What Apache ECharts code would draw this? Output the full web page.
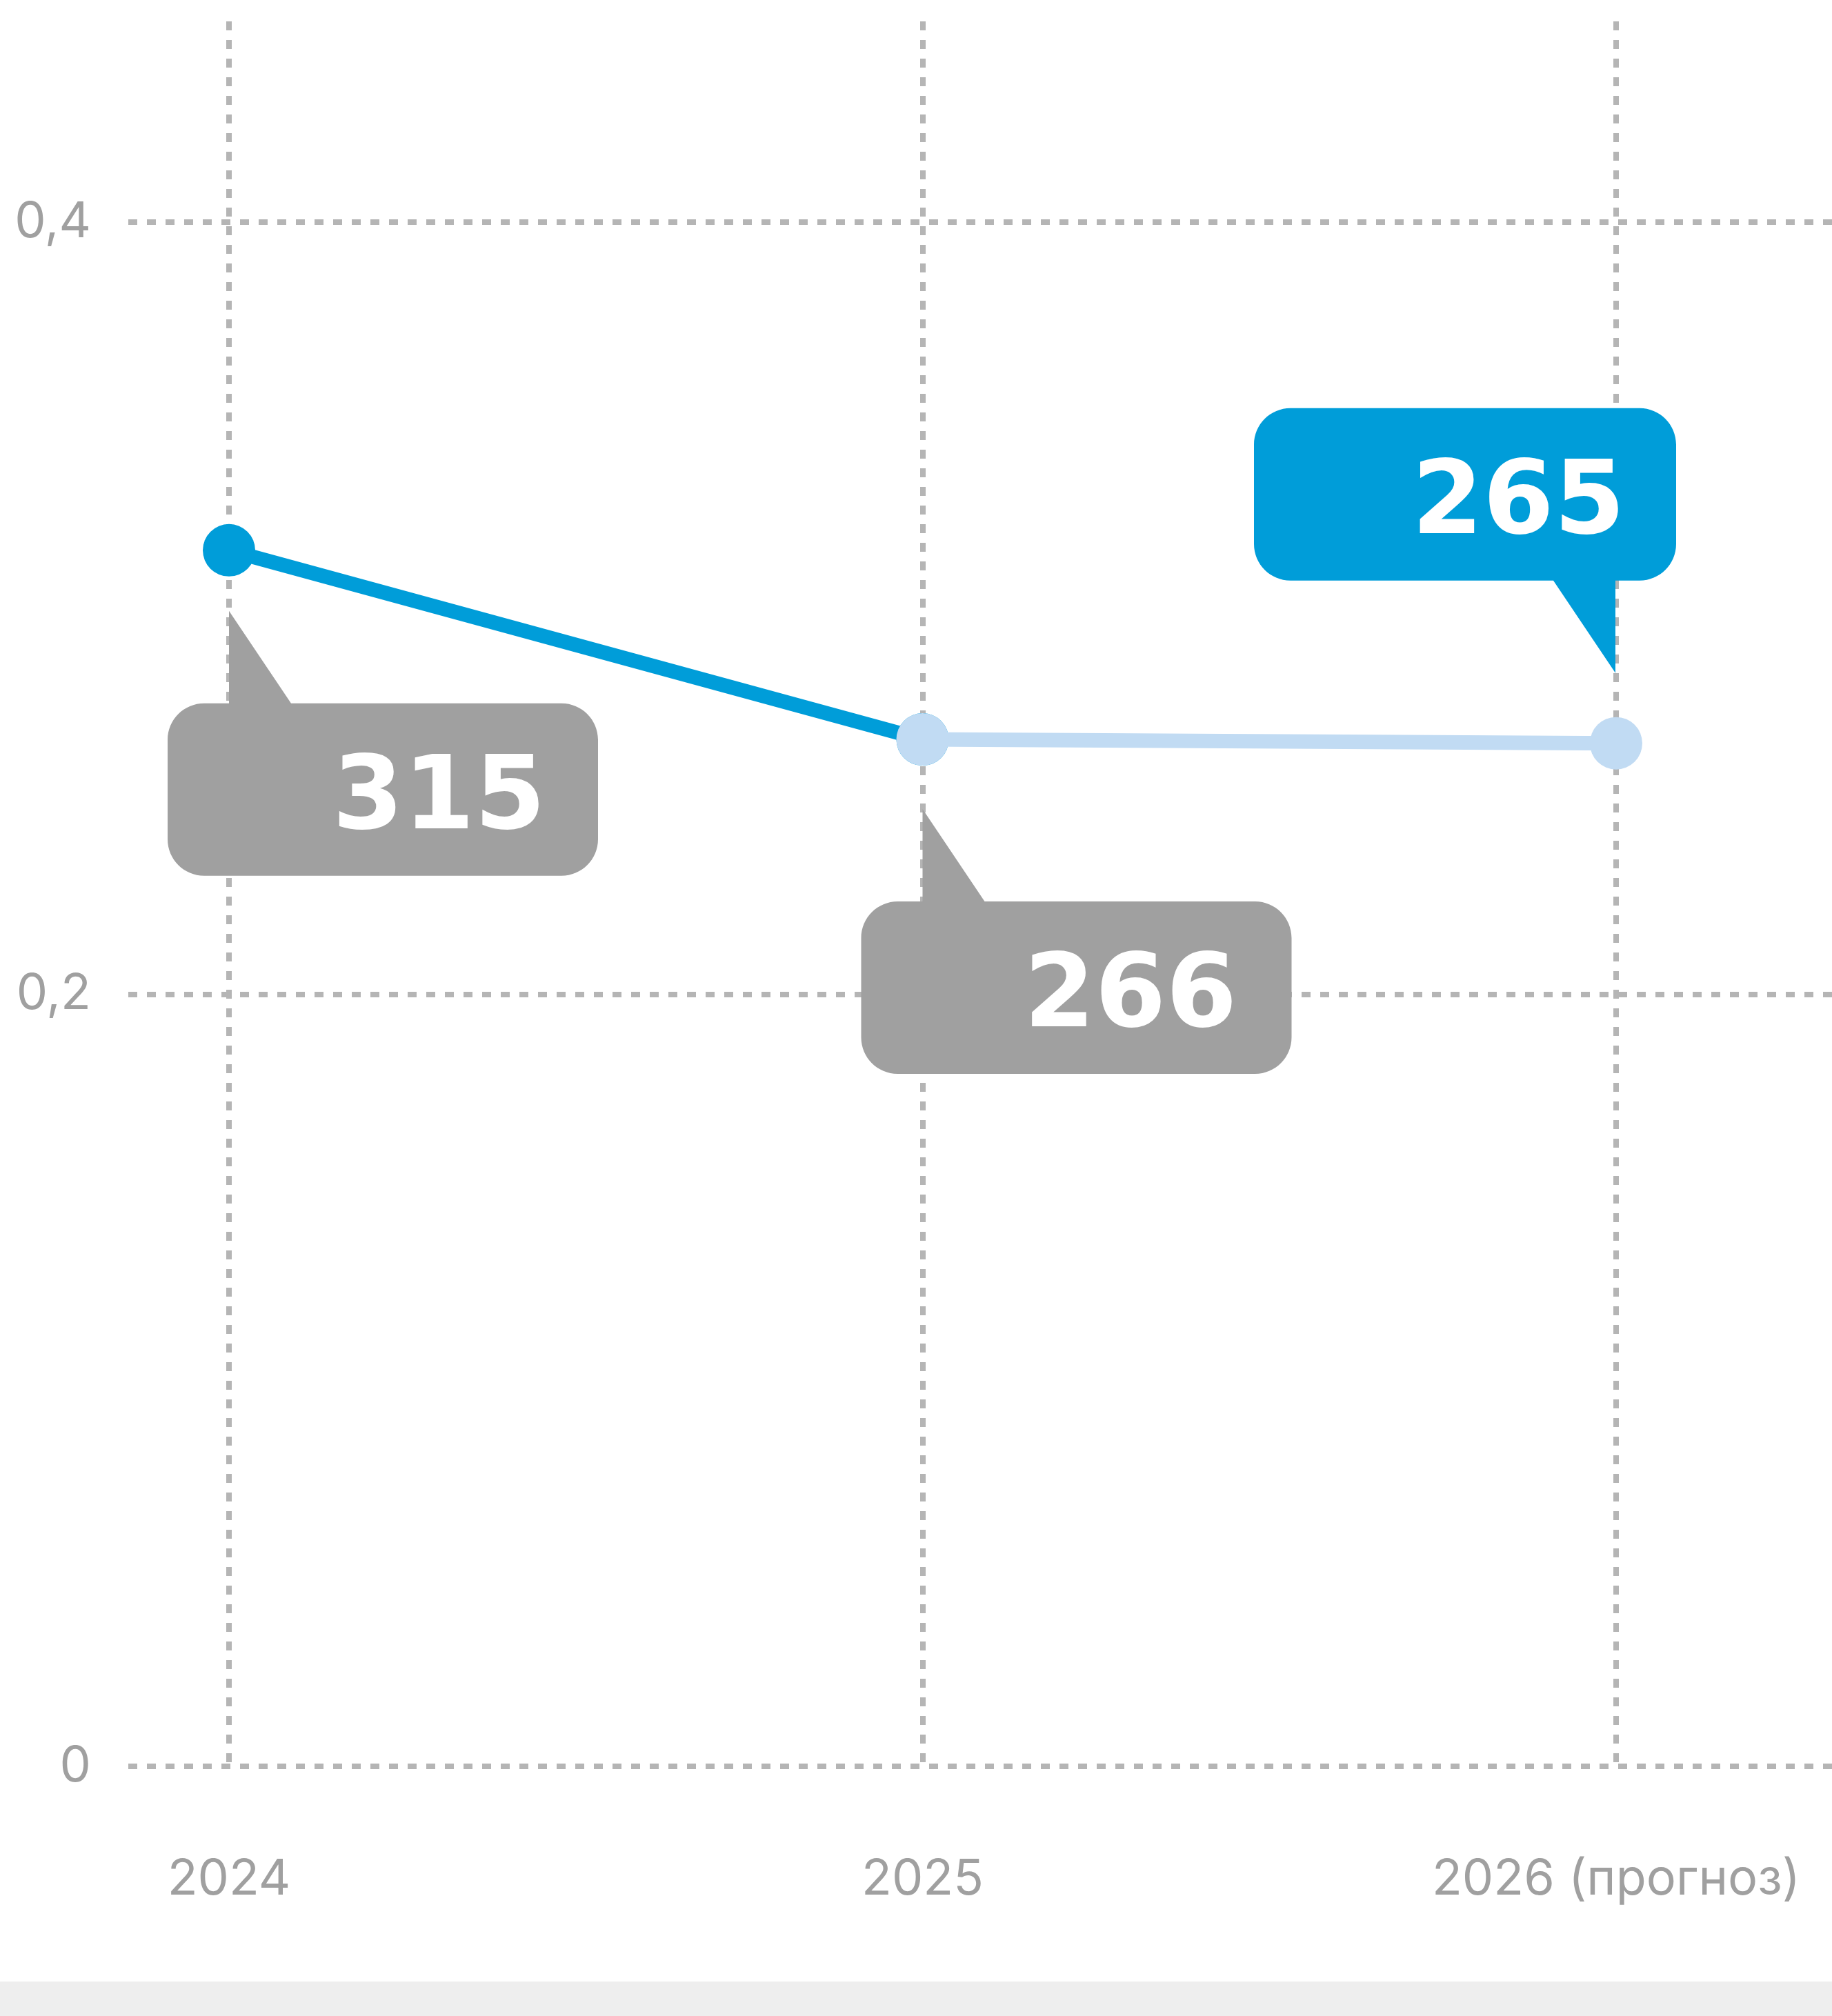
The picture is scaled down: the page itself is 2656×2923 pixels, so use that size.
<!DOCTYPE html>
<html><head><meta charset="utf-8">
<script src="https://cdn.jsdelivr.net/npm/echarts@6/dist/echarts.min.js"></script>
<style>html,body{margin:0;padding:0;background:#eeeeee;} #chart{width:2656px;height:2873px;background:#ffffff;}</style>
</head><body><div id="chart"></div>
<script>
// ---- data ----
const categories = ['2024', '2025', '2026 (прогноз)'];
const actualValues = [0.315, 0.266, null];
const forecastValues = [null, 0.266, 0.265];
const calloutValues = [0.315, 0.266, 0.265];
const calloutTexts = ['315', '266', '265'];
const yMin = 0, yMax = 0.452, yStep = 0.2;

// ---- styles ----
const DARK = '#009dd9', LIGHT = '#c1dbf3', GRAYBOX = '#a0a0a0', GRID = '#b5b5b5', LABEL = '#a0a0a0';
const H = 250, T = 134, R = 53, BW = 90;

function kk(r){ return +(r * 0.5523).toFixed(2); }
function pathUp(W, ax){
  const c = kk(R), b = T + H;
  return 'path://M' + ax + ' 0L' + (ax + BW) + ' ' + T + 'L' + (W - R) + ' ' + T +
    'C' + (W - R + c) + ' ' + T + ' ' + W + ' ' + (T + R - c) + ' ' + W + ' ' + (T + R) +
    'L' + W + ' ' + (b - R) + 'C' + W + ' ' + (b - R + c) + ' ' + (W - R + c) + ' ' + b + ' ' + (W - R) + ' ' + b +
    'L' + R + ' ' + b + 'C' + (R - c) + ' ' + b + ' 0 ' + (b - R + c) + ' 0 ' + (b - R) +
    'L0 ' + (T + R) + 'C0 ' + (T + R - c) + ' ' + (R - c) + ' ' + T + ' ' + R + ' ' + T +
    'L' + ax + ' ' + T + 'Z';
}
function pathDown(W, ax){
  const c = kk(R);
  return 'path://M' + R + ' 0L' + (W - R) + ' 0C' + (W - R + c) + ' 0 ' + W + ' ' + (R - c) + ' ' + W + ' ' + R +
    'L' + W + ' ' + (H - R) + 'C' + W + ' ' + (H - R + c) + ' ' + (W - R + c) + ' ' + H + ' ' + (W - R) + ' ' + H +
    'L' + ax + ' ' + H + 'L' + ax + ' ' + (H + T) + 'L' + (ax - BW) + ' ' + H +
    'L' + R + ' ' + H + 'C' + (R - c) + ' ' + H + ' 0 ' + (H - R + c) + ' 0 ' + (H - R) +
    'L0 ' + R + 'C0 ' + (R - c) + ' ' + (R - c) + ' 0 ' + R + ' 0Z';
}

const calloutStyle = [
  { dir: 'up',   color: GRAYBOX, W: 624, ax: 89,  offset: [223, 280],  text: [548, 277] },
  { dir: 'up',   color: GRAYBOX, W: 624, ax: 89,  offset: [223, 293],  text: [545, 276] },
  { dir: 'down', color: DARK,    W: 612, ax: 524, offset: [-219, -294], text: [538, 143] }
];

const markData = calloutValues.map((v, i) => {
  const s = calloutStyle[i];
  return {
    coord: [categories[i], v],
    value: calloutTexts[i],
    symbol: s.dir === 'up' ? pathUp(s.W, s.ax) : pathDown(s.W, s.ax),
    symbolSize: [s.W, H + T],
    symbolOffset: s.offset,
    symbolKeepAspect: false,
    itemStyle: { color: s.color },
    label: {
      show: true, position: s.text, align: 'right', verticalAlign: 'middle',
      formatter: calloutTexts[i], color: '#ffffff', fontSize: 148, fontWeight: 'bold',
      fontFamily: 'DejaVu Sans'
    }
  };
});

const chart = echarts.init(document.getElementById('chart'), null, { renderer: 'canvas' });
const gridTop = 31, gridBottom = 312;
const axisFont = { color: LABEL, fontSize: 72, fontFamily: 'Inter', fontWeight: 400 };
const gridLine = { color: GRID, width: 8, type: [13, 14] };
chart.setOption({
  animation: false,
  backgroundColor: '#ffffff',
  grid: [
    { left: 186, right: 0, top: gridTop, bottom: gridBottom },
    { left: 332, right: 313, top: gridTop, bottom: gridBottom }
  ],
  xAxis: [
    { gridIndex: 0, type: 'value', min: 0, max: 1, show: false },
    {
      gridIndex: 1, type: 'category', data: categories, boundaryGap: false,
      axisLine: { show: false }, axisTick: { show: false },
      axisLabel: Object.assign({ interval: 0, margin: 128 }, axisFont),
      splitLine: { show: true, interval: 0, lineStyle: gridLine }
    }
  ],
  yAxis: [
    {
      gridIndex: 0, type: 'value', min: yMin, max: yMax, interval: yStep,
      axisLine: { show: false }, axisTick: { show: false },
      axisLabel: Object.assign({
        margin: 54, showMaxLabel: false,
        formatter: v => String(+v.toFixed(2)).replace('.', ',')
      }, axisFont),
      splitLine: { show: true, showMaxLine: false, lineStyle: gridLine }
    },
    { gridIndex: 1, type: 'value', min: yMin, max: yMax, interval: yStep, show: false }
  ],
  series: [
    {
      type: 'line', xAxisIndex: 1, yAxisIndex: 1, data: actualValues,
      symbol: 'circle', symbolSize: 76, showAllSymbol: true,
      lineStyle: { color: DARK, width: 21 }, itemStyle: { color: DARK },
      z: 3,
      markPoint: { z: 10, data: markData, animation: false }
    },
    {
      type: 'line', xAxisIndex: 1, yAxisIndex: 1, data: forecastValues,
      symbol: 'circle', symbolSize: 76, showAllSymbol: true,
      lineStyle: { color: LIGHT, width: 21 }, itemStyle: { color: LIGHT },
      z: 4
    }
  ]
});
</script></body></html>
